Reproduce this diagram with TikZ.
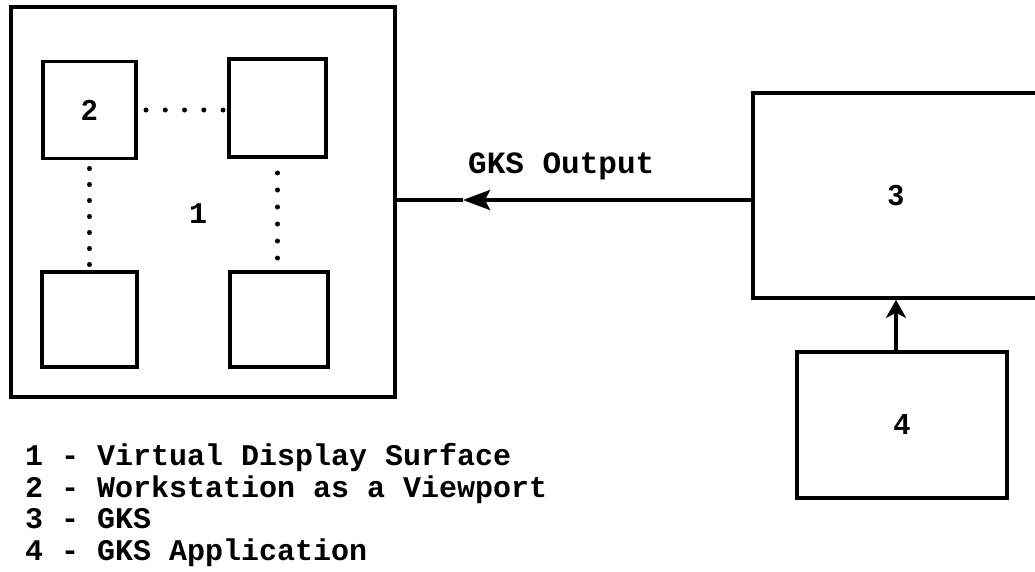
\documentclass[tikz,border=0pt]{standalone}
\usepackage{fontspec}
\usetikzlibrary{arrows.meta}
\newfontfamily\tw{Liberation Mono}[BoldFont={* Bold}]
\newfontfamily\lett{Liberation Sans}
\tikzset{
  box/.style={draw, line width=3.6pt, rectangle, inner sep=0pt, outer sep=0pt},
  digit/.style={font=\lett\bfseries\fontsize{29}{32}\selectfont},
  twtext/.style={font=\tw\bfseries\fontsize{30}{34}\selectfont, inner sep=0pt},
  dotline/.style={line width=5pt, line cap=round, dash pattern=on 0pt off #1},
  conn/.style={line width=3.2pt},
  tip/.style={-{Stealth[length=#1,width=20pt,inset=5pt]}}
}
\begin{document}
\begin{tikzpicture}[x=1pt,y=-1pt]
\useasboundingbox (0,0) rectangle (1035,571);
% outer virtual display surface
\node[box, minimum width=384pt, minimum height=390pt] (outer) at (203,202) {};
\node[twtext] (l1) at (198,214) {1};
% workstation boxes
\node[box, digit, minimum width=93pt, minimum height=97pt] (tl) at (89.5,110) {2};
\node[box, minimum width=97pt, minimum height=98pt] (tr) at (277.5,108) {};
\node[box, minimum width=95pt, minimum height=95pt] (bl) at (89.5,319.5) {};
\node[box, minimum width=98pt, minimum height=95pt] (br) at (279,319.5) {};
% dotted connections
\draw[dotline=19.25pt, shorten <=10pt, shorten >=4pt] (tl.east |- 0,110) -- (tr.west |- 0,110);
\draw[dotline=16pt, shorten <=10pt, shorten >=6pt] (tl.south) -- (tl.south |- bl.north);
\draw[dotline=17pt, shorten <=16pt, shorten >=12pt] (tr.south) -- (tr.south |- br.north);
% GKS and application
\node[box, digit, minimum width=286pt, minimum height=205pt] (b3) at (896,195.5) {3};
\node[box, digit, minimum width=210pt, minimum height=146pt] (b4) at (902,425) {4};
% connectors
\coordinate (ay) at (600,200);
\coordinate (mid) at (463,200);
\draw[conn, tip=27pt] (b3.west |- ay) -- (mid);
\draw[conn] (mid) -- (outer.east |- ay);
\node[twtext, anchor=base west, font=\tw\bfseries\fontsize{31}{34}\selectfont] (gout) at (468,173) {GKS Output};
\draw[conn, tip=18pt, shorten >=1.8pt] (b4.north -| b3.south) -- (b3.south);
% legend
\node[twtext, anchor=base west] (lg1) at (25,465) {1 - Virtual Display Surface};
\node[twtext, anchor=base west] (lg2) at (25,497) {2 - Workstation as a Viewport};
\node[twtext, anchor=base west] (lg3) at (25,528) {3 - GKS};
\node[twtext, anchor=base west] (lg4) at (25,560) {4 - GKS Application};
\end{tikzpicture}
\end{document}
